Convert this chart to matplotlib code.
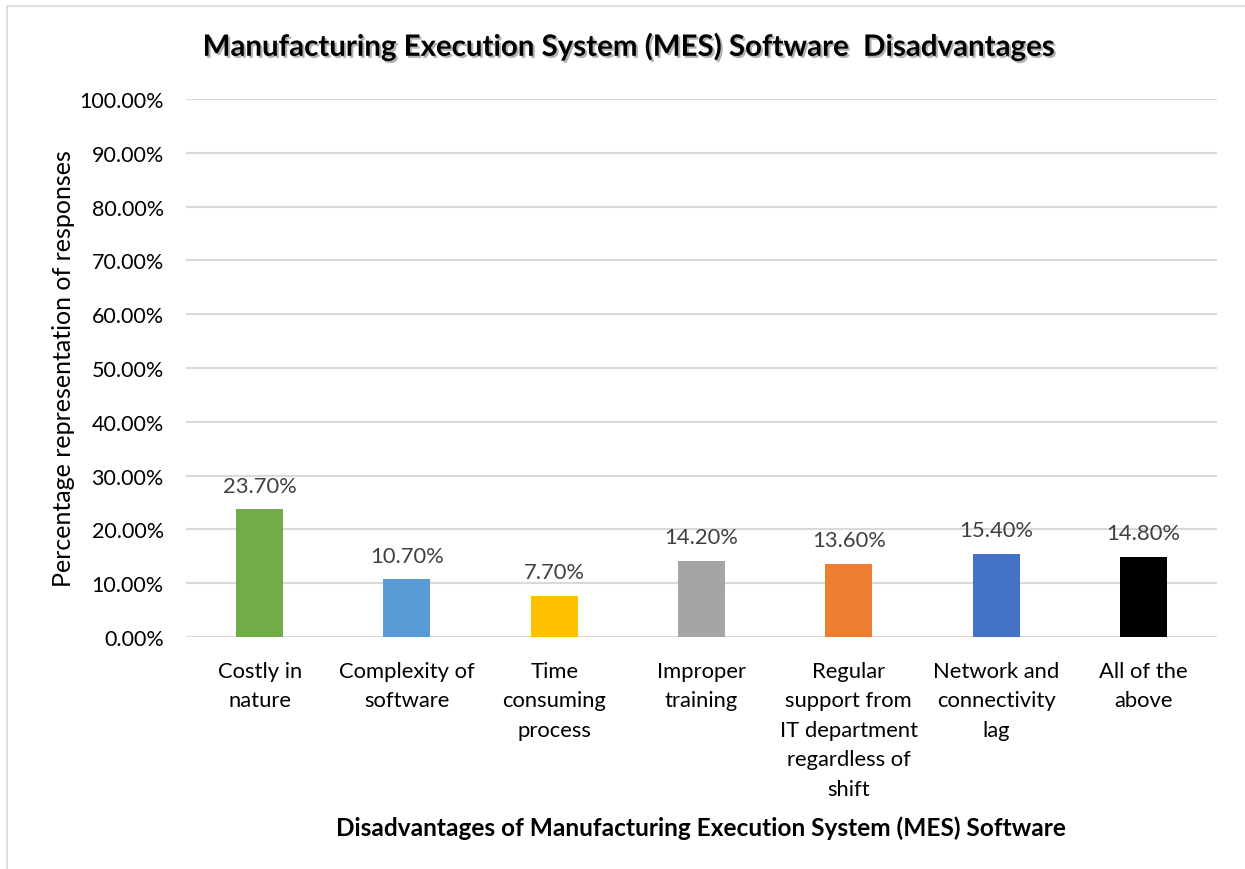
import matplotlib
matplotlib.use("Agg")
import matplotlib.pyplot as plt
import matplotlib.patheffects as pe
from matplotlib.lines import Line2D

plt.rcParams['font.family'] = ['Lato', 'DejaVu Sans']

categories = [
    "Costly in\nnature",
    "Complexity of\nsoftware",
    "Time\nconsuming\nprocess",
    "Improper\ntraining",
    "Regular\nsupport from\nIT department\nregardless of\nshift",
    "Network and\nconnectivity\nlag",
    "All of the\nabove",
]
values = [23.70, 10.70, 7.70, 14.20, 13.60, 15.40, 14.80]
bar_colors = ["#70AD47", "#5B9BD5", "#FFC000", "#A5A5A5", "#ED7D31", "#4472C4", "#000000"]
yticks = [0, 10, 20, 30, 40, 50, 60, 70, 80, 90, 100]

W, H = 1245, 870
fig = plt.figure(figsize=(W / 100, H / 100), dpi=100)
ax = fig.add_axes([186 / W, 1 - 638 / H, (1217 - 186) / W, (638 - 100) / H])

x = list(range(len(categories)))
bars = ax.bar(x, values, width=0.32, color=bar_colors, zorder=3)

for xi, v in zip(x, values):
    ax.annotate(f"{v:.2f}%", (xi, v), xytext=(0, 10), textcoords="offset points",
                ha="center", va="bottom", fontsize=15.8, color="#404040")

ax.set_xlim(-0.5, len(categories) - 0.5)
ax.set_ylim(0, 100)
ax.set_yticks(yticks)
ax.set_yticklabels([f"{t:.2f}%" for t in yticks], fontsize=15.5, color="#000000")
ax.set_xticks(x)
ax.set_xticklabels(categories, fontsize=15.8, color="#000000", linespacing=1.6, va="top")
ax.tick_params(axis="both", length=0)
ax.tick_params(axis="x", pad=17)
ax.tick_params(axis="y", pad=16)
ax.grid(axis="y", color="#D9D9D9", linewidth=1.5, zorder=0)
for s in ax.spines.values():
    s.set_visible(False)

ax.set_ylabel("Percentage representation of responses", fontsize=18, color="#000000", labelpad=3)

fig.text(627 / W, 1 - 48 / H, "Manufacturing Execution System (MES) Software  Disadvantages",
         ha="center", va="center", fontsize=21.2, fontweight="bold", color="#000000",
         path_effects=[pe.SimplePatchShadow(offset=(1.5, -1.5), shadow_rgbFace="#000000", alpha=0.3),
                       pe.Normal()])
fig.text(701 / W, 1 - 828 / H, "Disadvantages of Manufacturing Execution System (MES) Software",
         ha="center", va="center", fontsize=17.6, fontweight="bold", color="#000000")

# chart frame
fig.add_artist(Line2D([7 / W, 7 / W, 1.0], [0.0, 1 - 7 / H, 1 - 7 / H],
                      transform=fig.transFigure, color="#D9D9D9", linewidth=1.2))

fig.savefig("out.png", dpi=100, facecolor="white")
